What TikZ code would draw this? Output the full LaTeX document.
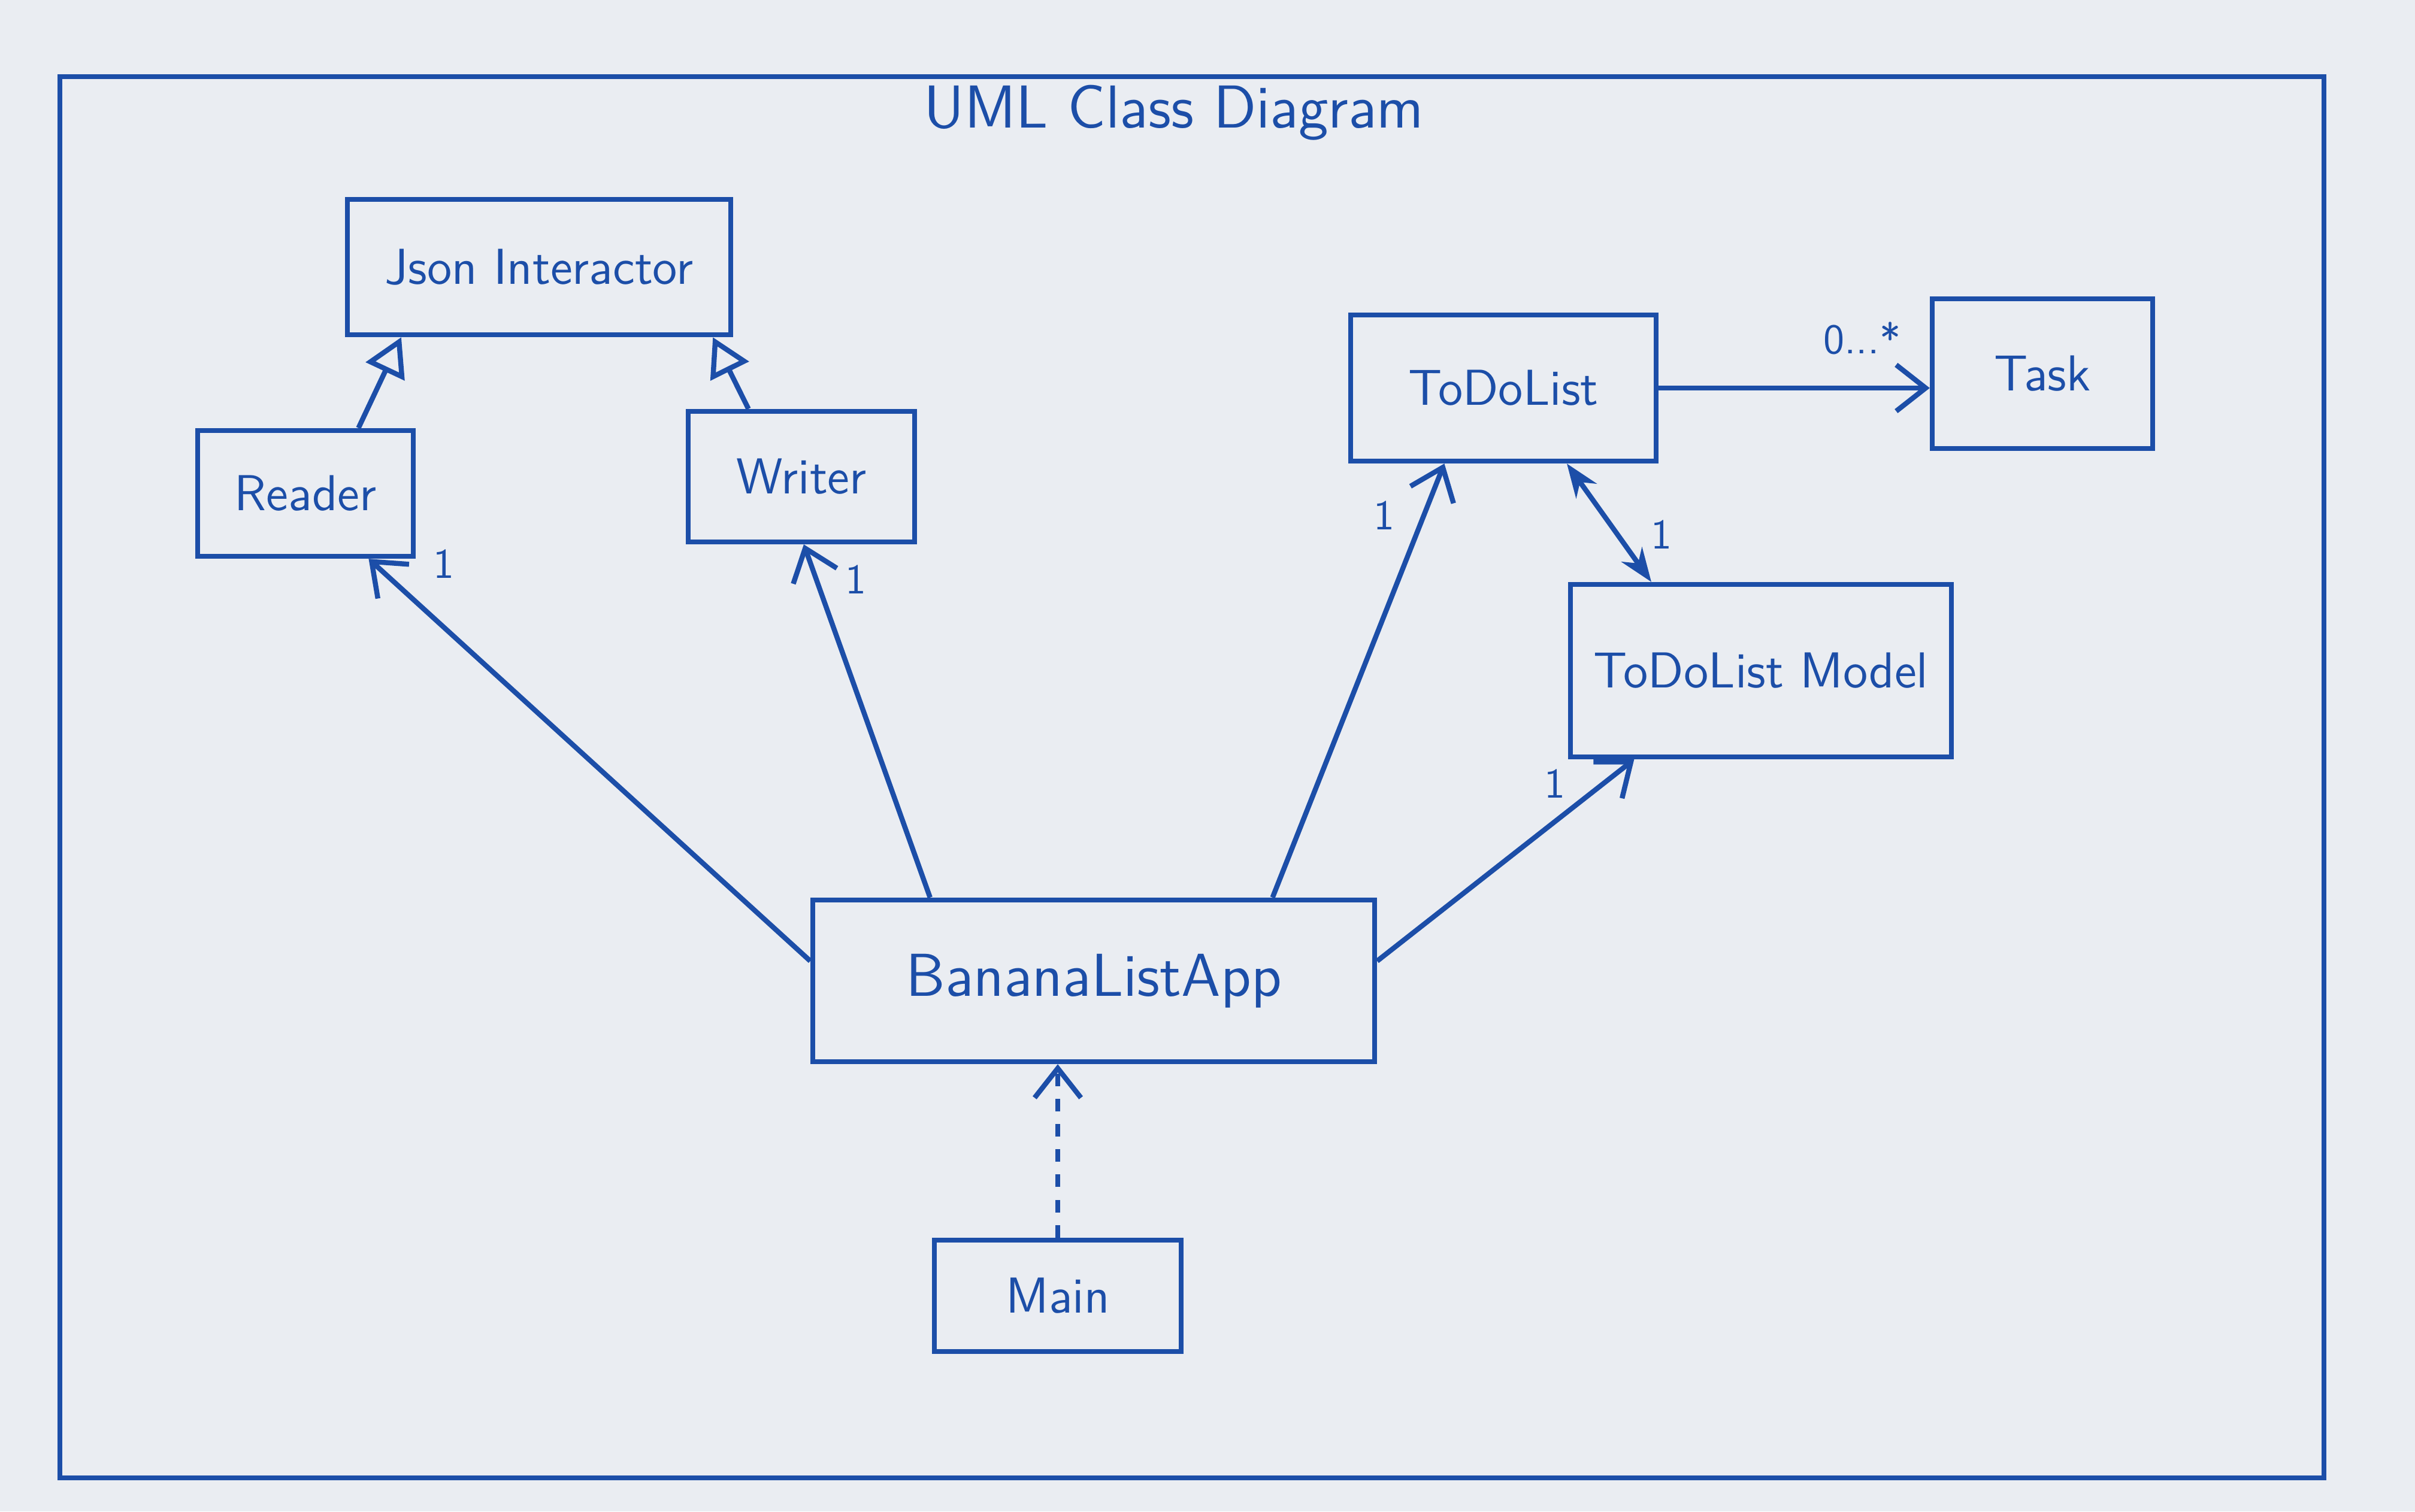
\documentclass[tikz,border=0pt]{standalone}
\usepackage{tikz}
\usetikzlibrary{arrows.meta}
\definecolor{pen}{RGB}{28,78,168}
\definecolor{paper}{RGB}{234,237,242}

\begin{document}
\begin{tikzpicture}[
        cls/.style={shape=rectangle,draw=pen,line width=1.2pt,text=pen,font=\large\sffamily,inner sep=2pt},
        nav/.style={-{Straight Barb[length=7pt,width=11pt]},color=pen,line width=1.2pt},
        gen/.style={-{Triangle[open,length=9pt,width=10pt]},color=pen,line width=1.2pt},
        mult/.style={text=pen,font=\sffamily}]
        \fill[paper] (0,0) rectangle (20.16,12.62);
        \draw[pen,line width=1.2pt] (0.5,0.28) rectangle (19.4,11.98);
        \node[text=pen,font=\Large\sffamily] (title) at (9.8,11.68) {UML Class Diagram};
        \node[cls,minimum width=3.2cm,minimum height=1.13cm] (J) at (4.5,10.39) {Json Interactor};
        \node[cls,minimum width=1.8cm,minimum height=1.05cm] (R) at (2.55,8.5) {Reader};
        \node[cls,minimum width=1.89cm,minimum height=1.09cm] (W) at (6.69,8.64) {Writer};
        \node[cls,minimum width=2.55cm,minimum height=1.22cm] (L) at (12.55,9.38) {ToDoList};
        \node[cls,minimum width=1.84cm,minimum height=1.25cm] (T) at (17.05,9.5) {Task};
        \node[cls,minimum width=3.18cm,minimum height=1.44cm] (M) at (14.7,7.02) {ToDoList Model};
        \node[cls,font=\Large\sffamily,minimum width=4.69cm,minimum height=1.35cm] (B) at (9.13,4.43) {BananaListApp};
        \node[cls,minimum width=2.06cm,minimum height=0.93cm] (Mn) at (8.83,1.8) {Main};
        \path [gen] (R.51) edge (J.207);
        \path [gen] (W.128) edge (J.338);
        \path [nav] (B.176) edge node[mult,pos=0.9,above right=1pt]{1} (R.314);
        \path [nav] (B.153) edge node[mult,pos=0.9,right=3pt]{1} (W.272);
        \path [nav] (B.25) edge node[mult,pos=0.88,left=3pt]{1} (L.232);
        \path [nav] (B.4) edge node[mult,pos=0.88,left=5pt]{1} (M.215);
        \path [nav] (L.east) edge node[mult,pos=0.75,above=4pt]{0...*} (L.east -| T.west);
        \path [{Stealth[length=8pt]}-{Stealth[length=8pt]},color=pen,line width=1.2pt] (L.310) edge node[mult,pos=0.6,right=4pt]{1} (M.141);
        \path [nav,dashed] (Mn.north) edge (Mn.north |- B.south);
    \end{tikzpicture}
\end{document}
